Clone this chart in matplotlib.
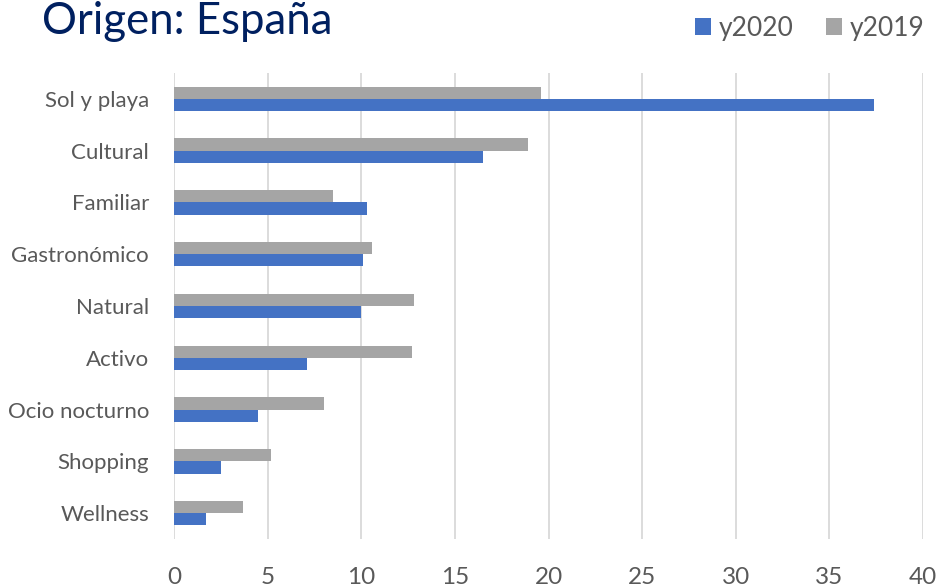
import numpy as np
import matplotlib.pyplot as plt

plt.rcParams['font.family'] = ['Lato', 'DejaVu Sans']

# datos
categorias = ['Sol y playa', 'Cultural', 'Familiar', 'Gastronómico', 'Natural',
              'Activo', 'Ocio nocturno', 'Shopping', 'Wellness']
y2020 = [37.4, 16.5, 10.3, 10.1, 10.0, 7.1, 4.5, 2.5, 1.7]
y2019 = [19.6, 18.9, 8.5, 10.6, 12.8, 12.7, 8.0, 5.2, 3.7]
xticks = [0, 5, 10, 15, 20, 25, 30, 35, 40]

azul = '#4472C4'
gris = '#A5A5A5'
texto = '#595959'

fig = plt.figure(figsize=(9.41, 5.87), dpi=100)
ax = fig.add_axes([174/941, 1-539/587, (923-174)/941, (539-73)/587])

pos = np.arange(len(categorias))
h = 0.235
ax.barh(pos - h/2, y2019, height=h, color=gris, label='y2019', zorder=3)
ax.barh(pos + h/2, y2020, height=h, color=azul, label='y2020', zorder=3)

ax.set_ylim(len(categorias) - 0.5, -0.5)
ax.set_xlim(0, 40)
ax.set_xticks(xticks)
ax.set_yticks(pos)
ax.set_yticklabels(categorias)
ax.grid(axis='x', color='#D9D9D9', linewidth=1.3, zorder=0)
ax.tick_params(axis='both', length=0, colors=texto)
ax.tick_params(axis='y', labelsize=16, pad=18)
ax.tick_params(axis='x', labelsize=17.5, pad=20)
for s in ax.spines.values():
    s.set_visible(False)

fig.text(42/941, 1-34/587, 'Origen: España', fontsize=31.5, color='#002060',
         va='baseline', ha='left')

handles, labels = ax.get_legend_handles_labels()
fig.legend(handles[::-1], labels[::-1], loc='upper right', bbox_to_anchor=(1.008, 1.013),
           ncol=2, frameon=False, fontsize=19, handlelength=0.62, handleheight=0.62,
           handletextpad=0.3, columnspacing=1.2, labelcolor=texto)

fig.savefig('out.png', dpi=100)
